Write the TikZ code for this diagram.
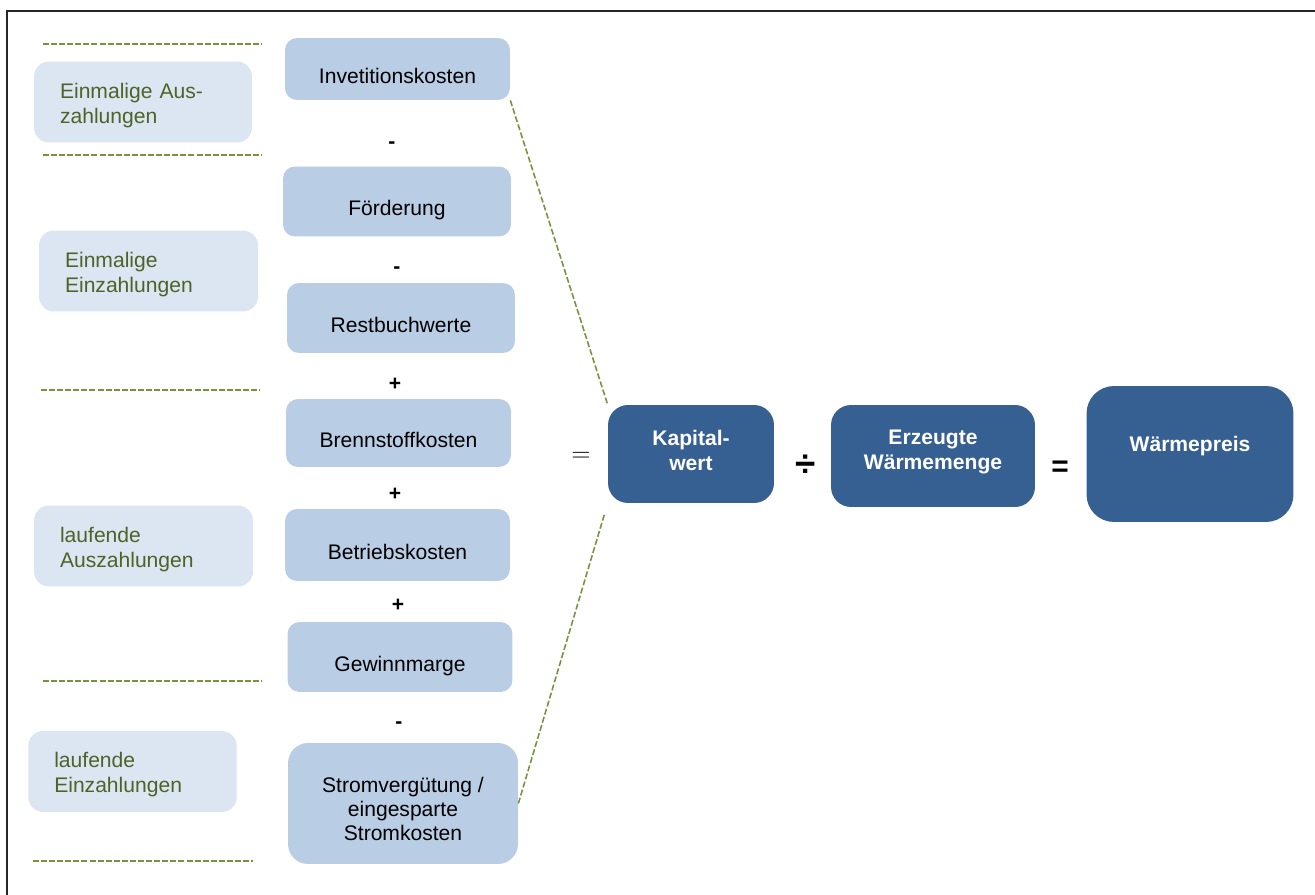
\documentclass[tikz,border=0pt]{standalone}
\usepackage{fontspec}
\setmainfont{Liberation Sans}
\definecolor{lightblue}{HTML}{DCE6F2}
\definecolor{midblue}{HTML}{B9CDE5}
\definecolor{darkblue}{HTML}{376092}
\definecolor{olivetext}{HTML}{4F6228}
\definecolor{oliveline}{HTML}{77933C}
\begin{document}
\begin{tikzpicture}[x=0.02cm,y=-0.02cm]
        \tikzstyle{item} = [rectangle, fill=midblue, rounded corners=0.24cm, minimum width=4.5cm, minimum height=1.4cm, align=center, font=\fontsize{12}{13.6}\selectfont]
        \tikzstyle{itemline} = [text height=18.5pt, text depth=2pt]
        \tikzstyle{group} = [rectangle, fill=lightblue, rounded corners=0.3cm, minimum height=1.62cm, inner xsep=0.52cm, text height=12.5pt, align=left, text=olivetext, font=\fontsize{12}{14.2}\selectfont]
        \tikzstyle{result} = [rectangle, fill=darkblue, rounded corners=0.4cm, text=white, align=center, font=\fontsize{12}{13.8}\selectfont\bfseries]
        \tikzstyle{sign} = [inner sep=0pt, font=\fontsize{12}{14}\selectfont\bfseries]
        \tikzstyle{sep} = [oliveline, line width=1.1pt, dash pattern=on 3.4pt off 1.2pt]
        \tikzstyle{link} = [oliveline, line width=0.9pt, dash pattern=on 3.4pt off 1.4pt]

        \useasboundingbox (0,0) rectangle (1315,895);
        \draw [line width=1.1pt, black!85] (7,895) -- (7,11) -- (1315,11);

        % Posten
        \node (invest) [item, itemline, minimum height=1.24cm] at (397.5,69) {Invetitionskosten};
        \node (foerder) [item, itemline, minimum width=4.56cm] at (397,201.5) {Förderung};
        \node (rest) [item, itemline, minimum width=4.56cm] at (401,318) {Restbuchwerte};
        \node (brenn) [item, itemline, minimum height=1.36cm] at (398.5,433) {Brennstoffkosten};
        \node (betrieb) [item, itemline, minimum height=1.44cm] at (397.5,545) {Betriebskosten};
        \node (gewinn) [item, itemline] at (400,657) {Gewinnmarge};
        \node (strom) [item, rounded corners=0.4cm, minimum width=4.6cm, minimum height=2.42cm, text height=42.5pt] at (403,803.5) {Stromvergütung /\\eingesparte\\Stromkosten};

        \node (minus1) [sign] at (392,145) {-};
        \node (minus2) [sign] at (397,270) {-};
        \node (plus1) [sign] at (395,384) {+};
        \node (plus2) [sign] at (395,494) {+};
        \node (plus3) [sign] at (398,605) {+};
        \node (minus3) [sign] at (399,725) {-};

        % Gruppen
        \node (einaus) [group, text width=3.32cm] at (143,102) {Einmalige Aus-\\zahlungen};
        \node (einein) [group, text width=3.34cm] at (148.5,271) {Einmalige\\Einzahlungen};
        \node (laufaus) [group, text width=3.34cm] at (143.5,546) {laufende\\Auszahlungen};
        \node (laufein) [group, text width=3.13cm] at (132.5,771.5) {laufende\\Einzahlungen};

        \draw [sep] (43,44) -- (262,44);
        \draw [sep] (43,155) -- (262,155);
        \draw [sep] (41,390) -- (260,390);
        \draw [sep] (43,681) -- (262,681);
        \draw [sep] (33,861) -- (253,861);

        % Ergebnis
        \node (kapital) [result, minimum width=3.32cm, minimum height=1.96cm, text height=18.5pt] at (691,454) {Kapital-\\wert};
        \node (menge) [result, minimum width=4.08cm, minimum height=2.04cm, text height=17.4pt] at (933,456) {Erzeugte\\Wärmemenge};
        \node (preis) [result, rounded corners=0.55cm, minimum width=4.14cm, minimum height=2.72cm, text depth=11pt] at (1190,454) {Wärmepreis};

        \node (equal1) [inner sep=0pt, font=\fontsize{14.5}{16}\selectfont] at (581,457) {$=$};
        \node (divide) [sign, font=\fontsize{21}{24}\selectfont\bfseries] at (806,466) {÷};
        \node (equal2) [sign, font=\fontsize{17}{20}\selectfont\bfseries] at (1060,469) {=};

        \draw [link] (invest.south east) -- (kapital.north west);
        \draw [link, shorten >=0.24cm] (strom.east) -- (kapital.south west);
\end{tikzpicture}
\end{document}
